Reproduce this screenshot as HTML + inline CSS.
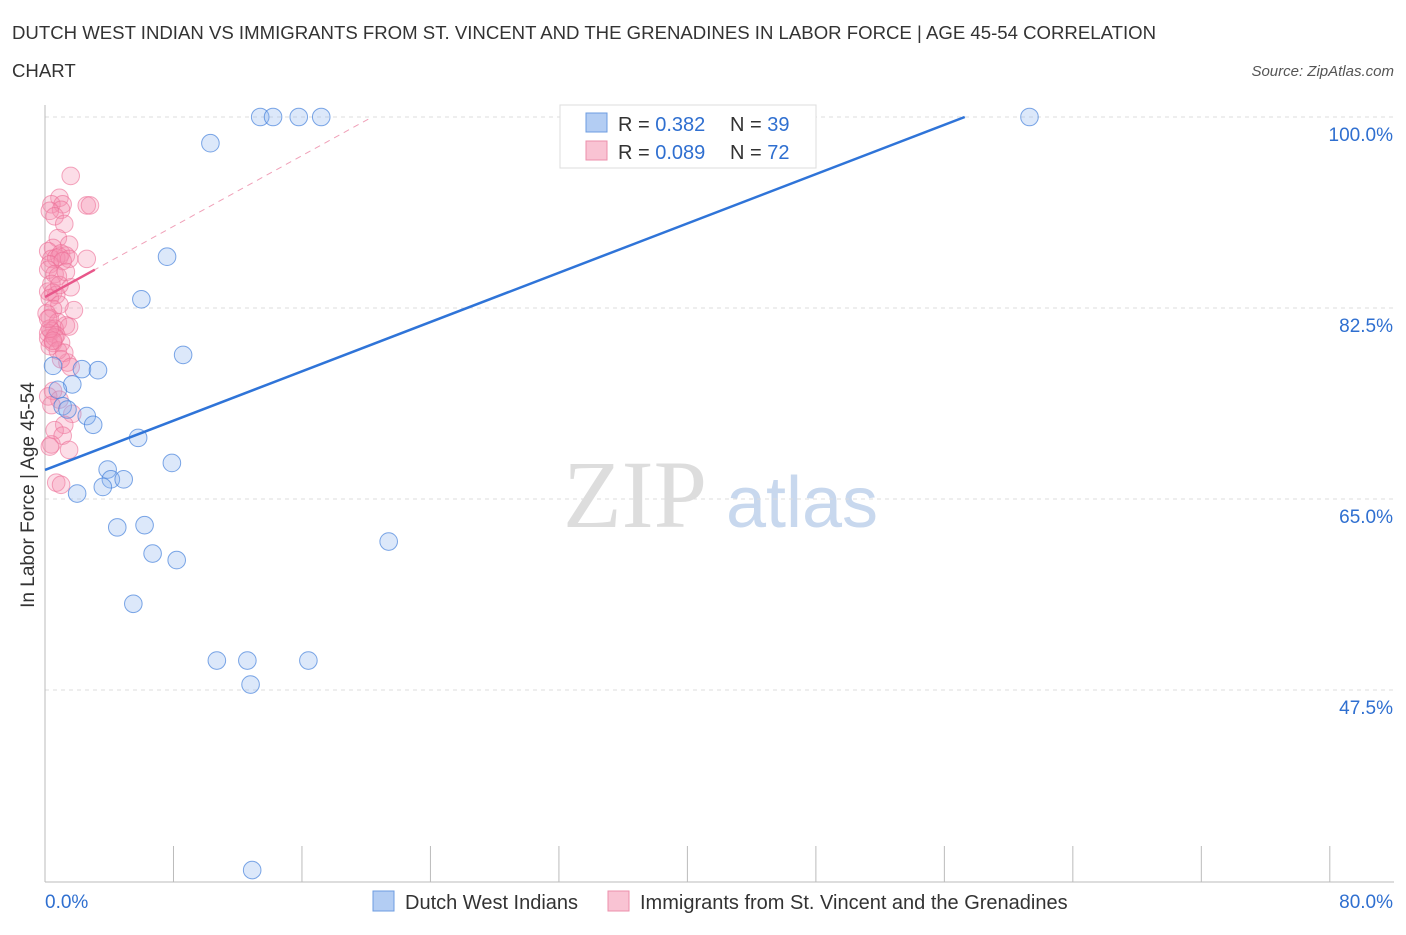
<!DOCTYPE html>
<html><head><meta charset="utf-8"><style>
body{margin:0;background:#fff;font-family:"Liberation Sans",sans-serif}
</style></head><body>
<svg id="c" width="1406" height="930" xmlns="http://www.w3.org/2000/svg" font-family="Liberation Sans, sans-serif">
<text x="12" y="39" font-size="18.6" fill="#333">DUTCH WEST INDIAN VS IMMIGRANTS FROM ST. VINCENT AND THE GRENADINES IN LABOR FORCE | AGE 45-54 CORRELATION</text>
<text x="12" y="77" font-size="18.6" fill="#333">CHART</text>
<text x="1394" y="76" font-size="15" fill="#555" font-style="italic" text-anchor="end">Source: ZipAtlas.com</text>
<text x="34" y="495" font-size="19" fill="#333" transform="rotate(-90 34 495)" text-anchor="middle">In Labor Force | Age 45-54</text>
<g><text x="635" y="527" font-size="96" font-family="Liberation Serif, serif" fill="#ddd" text-anchor="middle">ZIP</text><text x="802" y="527" font-size="72" fill="#c8d8ee" text-anchor="middle">atlas</text></g>
<g id="grid"></g><g id="axes"></g><g id="pts"></g><g id="lines"></g>
<g>
<rect x="560" y="105" width="256" height="63" fill="#fff" stroke="#ddd"/>
<rect x="586" y="113" width="21" height="19" fill="#b3cdf3" stroke="#6c9ce0"/>
<rect x="586" y="141" width="21" height="19" fill="#f9c3d3" stroke="#ec8fab"/>
<text x="618" y="131" font-size="20" fill="#333">R = <tspan fill="#2f6fd0"> 0.382</tspan><tspan x="730">N = </tspan><tspan fill="#2f6fd0">39</tspan></text>
<text x="618" y="159" font-size="20" fill="#333">R = <tspan fill="#2f6fd0">0.089</tspan><tspan x="730">N = </tspan><tspan fill="#2f6fd0">72</tspan></text>
</g>
<g>
<rect x="373" y="891" width="21" height="20" fill="#b3cdf3" stroke="#6c9ce0"/>
<text x="405" y="909" font-size="20" fill="#333">Dutch West Indians</text>
<rect x="608" y="891" width="21" height="20" fill="#f9c3d3" stroke="#ec8fab"/>
<text x="640" y="909" font-size="20" fill="#333">Immigrants from St. Vincent and the Grenadines</text>
</g>
</svg>
<script>
const yTicks=[100,82.5,65,47.5];
const xTickLabels=["0.0%","80.0%"];
const blueX=[13.4,14.2,15.8,17.2,61.3,34.6,10.3,7.6,6.0,8.6,0.5,2.3,3.3,1.7,0.8,1.1,2.6,3.0,5.8,7.9,3.9,4.1,4.9,3.6,2.0,4.5,6.2,6.7,8.2,21.4,5.5,10.7,12.6,16.4,12.8,12.9,1.4];
const blueY=[100,100,100,100,100,100,97.6,87.2,83.3,78.2,77.2,76.9,76.8,75.5,75.0,73.5,72.6,71.8,70.6,68.3,67.7,66.8,66.8,66.1,65.5,62.4,62.6,60.0,59.4,61.1,55.4,50.2,50.2,50.2,48.0,31.0,73.2];
const pinkX=[1.6,0.9,0.4,1.1,1.0,2.6,2.8,0.3,0.6,1.2,0.8,1.5,0.5,0.2,1.0,1.3,0.4,0.7,0.9,2.6,0.3,1.5,1.1,0.2,0.6,0.8,1.6,0.4,0.2,0.5,0.7,1.8,0.3,0.9,0.5,0.1,0.3,0.8,1.3,0.6,0.4,0.2,1.5,0.7,0.2,0.5,1.0,0.3,1.4,0.6,0.3,0.8,1.2,1.0,1.6,0.5,0.2,0.9,1.7,0.4,1.2,0.6,1.1,0.4,1.5,0.3,0.7,1.0,0.5,0.9,0.2,1.3];
const pinkY=[94.6,92.6,92.0,92.0,91.5,91.9,91.9,91.4,90.9,90.2,88.9,88.3,88.0,87.7,87.5,87.3,87.0,87.1,87.2,87.0,86.5,87.0,86.8,86.0,85.6,85.4,84.4,84.7,84.0,83.9,83.7,82.3,83.4,82.8,82.4,82.0,81.6,81.2,80.9,80.6,80.4,80.2,80.8,80.0,79.7,79.3,79.3,79.0,77.5,79.8,80.6,78.6,78.4,77.8,77.1,74.9,74.4,74.1,72.8,73.6,71.8,71.3,70.8,70.0,69.5,69.8,66.5,66.3,79.5,84.6,81.5,85.8];
const trendIntercept=[67.66,83.5];
const trendSlope=[0.5647,0.81];
const X=v=>45+v*16.06, Y=v=>117+(100-v)*10.914;
const NS="http://www.w3.org/2000/svg";
function mk(t,a,p){const e=document.createElementNS(NS,t);for(const k in a)e.setAttribute(k,a[k]);p.appendChild(e);return e;}
const grid=document.getElementById('grid'),axes=document.getElementById('axes'),pts=document.getElementById('pts'),lines=document.getElementById('lines');
yTicks.forEach(v=>{
 const l=mk('line',{x1:45,x2:1394,y1:Y(v),y2:Y(v),stroke:'#ddd','stroke-dasharray':'4 4'},grid);
 
 
 const t=mk('text',{x:1393,y:Y(v)+24,'font-size':19,fill:'#2f6fd0','text-anchor':'end'},grid);t.textContent=v.toFixed(1)+'%';
 
 
});
const ax=mk('line',{x1:45,x2:1394,y1:882,y2:882,stroke:'#bbb'},axes);


const ay=mk('line',{x1:45,x2:45,y1:105,y2:882,stroke:'#bbb'},axes);


for(let i=0;i<=10;i++){const x=X(i*8);const t=mk('line',{x1:x,x2:x,y1:846,y2:882,stroke:'#bbb'},axes);
 
 }
xTickLabels.forEach((s,i)=>{const t=mk('text',{x:i?1393:45,y:908,'font-size':19,fill:'#2f6fd0','text-anchor':i?'end':'start'},axes);t.textContent=s;
 
 });
pinkX.forEach((v,i)=>{const c=mk('circle',{cx:X(v),cy:Y(pinkY[i]),r:8.8,fill:'rgba(244,143,177,0.3)',stroke:'rgba(236,110,150,0.6)'},pts);
 
 });
blueX.forEach((v,i)=>{const c=mk('circle',{cx:X(v),cy:Y(blueY[i]),r:8.8,fill:'rgba(140,180,240,0.3)',stroke:'rgba(70,130,220,0.7)'},pts);
 
 });
const bx=(100-trendIntercept[0])/trendSlope[0];
const bl=mk('line',{x1:X(0),y1:Y(trendIntercept[0]),x2:X(bx),y2:Y(100),stroke:'#2f74d8','stroke-width':2.5},lines);


const px=(100-trendIntercept[1])/trendSlope[1];
const pd=mk('line',{x1:X(0),y1:Y(trendIntercept[1]),x2:X(px),y2:Y(100),stroke:'#f0a0b8','stroke-width':1,'stroke-dasharray':'6 5'},lines);


const ps=mk('line',{x1:X(0),y1:Y(trendIntercept[1]),x2:X(3.1),y2:Y(trendIntercept[1]+trendSlope[1]*3.1),stroke:'#e8578a','stroke-width':2.5},lines);


</script>
</body></html>
